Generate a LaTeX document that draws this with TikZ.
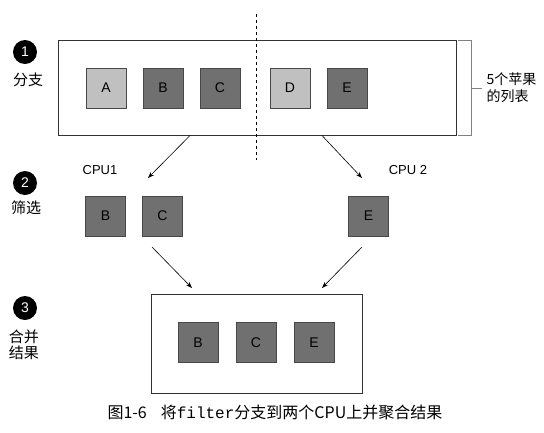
\documentclass[tikz,border=0pt]{standalone}
\usepackage{fontspec}
\setmainfont{Liberation Sans}
\setmonofont{Liberation Mono}
\newfontfamily\cjk{Noto Sans CJK SC}
\usetikzlibrary{arrows.meta,positioning}
\definecolor{applelight}{RGB}{192,192,192}
\definecolor{appledark}{RGB}{112,112,112}
\definecolor{appleedge}{RGB}{72,72,72}
\definecolor{boxedge}{RGB}{50,50,50}

\begin{document}
\begin{tikzpicture}[
      x=1pt, y=-1pt,
      apple/.style={draw=appleedge, line width=0.9pt, minimum size=40pt, inner sep=0pt, outer sep=0pt, font=\fontsize{14}{16}\selectfont},
      light/.style={apple, fill=applelight},
      dark/.style={apple, fill=appledark},
      listbox/.style={draw=boxedge, line width=0.8pt, inner sep=0pt, outer sep=0pt},
      stepnum/.style={circle, fill=black, text=white, minimum size=24pt, inner sep=0pt, font=\fontsize{14}{16}\selectfont},
      steplabel/.style={align=center, font=\cjk\fontsize{15}{16}\selectfont},
      cpu/.style={font=\fontsize{13}{16}\selectfont},
      arr/.style={-{Stealth[length=2.2mm, width=1.6mm]}, line width=0.6pt}
    ]
      \useasboundingbox[fill=white] (0,0) rectangle (544,432);

      % step markers
      \node[stepnum] (n1) at (25,52) {1};
      \node[steplabel] (l1) at (28,80) {分支};
      \node[stepnum] (n2) at (25,183) {2};
      \node[steplabel] (l2) at (26,208) {筛选};
      \node[stepnum] (n3) at (25,308) {3};
      \node[steplabel] (l3) at (24,345) {合并\\结果};

      % the list of five apples
      \node[listbox, minimum width=398pt, minimum height=95pt] (list) at (257,87.5) {};
      \node[light] (a) at (106,88) {A};
      \node[dark, right=17pt of a] (b) {B};
      \node[dark, right=17pt of b] (c) {C};
      \node[light, right=30pt of c] (d) {D};
      \node[dark, right=17pt of d] (e) {E};
      \draw[dashed, line width=0.6pt] (256,14) -- (256,160);

      % bracket
      \coordinate (bt) at (458,40);
      \coordinate (bb) at (458,135);
      \draw[line width=0.6pt, color=gray] (bt) -- ++(13,0) |- (bb);
      \draw[line width=0.6pt, color=gray] (471,88) -- (482,88);
      \node[anchor=west, align=left, font=\cjk\fontsize{14}{17}\selectfont] (count) at (483,88) {5个苹果\\的列表};

      % filtering on two CPUs
      \node[cpu] (cpu1) at (100,170) {CPU1};
      \node[cpu] (cpu2) at (408,170) {CPU 2};
      \node[dark] (b2) at (105.5,216) {B};
      \node[dark, right=17pt of b2] (c2) {C};
      \node[dark] (e2) at (368.5,216) {E};

      % merged result
      \node[listbox, minimum width=211pt, minimum height=99pt] (merge) at (256.5,343.5) {};
      \node[dark] (b3) at (198,342.5) {B};
      \node[dark, right=18pt of b3] (c3) {C};
      \node[dark, right=18pt of c3] (e3) {E};

      \coordinate (s1) at (190,135.5);
      \coordinate (t1) at (148,178);
      \coordinate (s2) at (322,135.5);
      \coordinate (t2) at (362,178);
      \coordinate (s3) at (152,247);
      \coordinate (t3) at (192,288);
      \coordinate (s4) at (362,247);
      \coordinate (t4) at (322,288);
      \draw[arr] (s1) -- (t1);
      \draw[arr] (s2) -- (t2);
      \draw[arr] (s3) -- (t3);
      \draw[arr] (s4) -- (t4);

      % caption
      \node[anchor=west, font=\cjk\fontsize{16}{18}\selectfont] (cap) at (104,412)
        {图1-6\hspace{14pt}将{\ttfamily filter}分支到两个CPU上并聚合结果};
    \end{tikzpicture}
\end{document}
